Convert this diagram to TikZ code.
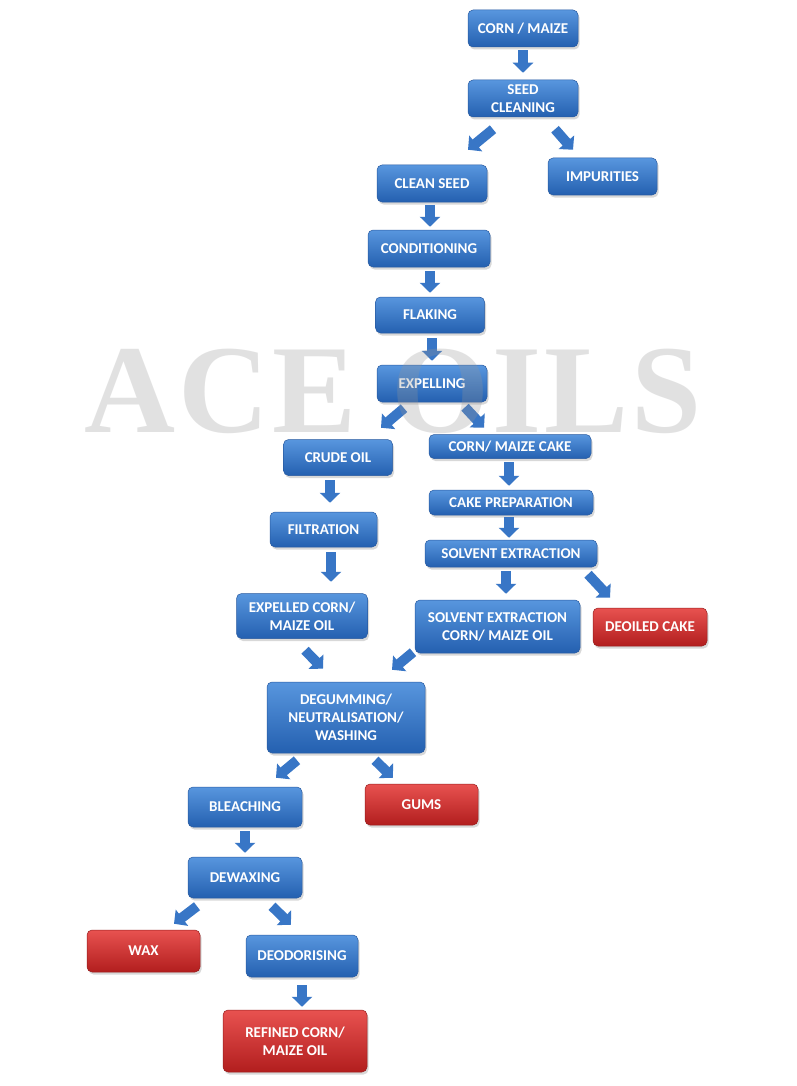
\documentclass[tikz,border=0pt]{standalone}
\usepackage{fontspec}
\newfontfamily\boxfont{Carlito}
\newfontfamily\wmfont[LetterSpace=2.4]{Liberation Serif}
\usetikzlibrary{arrows.meta,shadows}
\definecolor{btop}{RGB}{88,150,222}
\definecolor{bbot}{RGB}{36,96,176}
\definecolor{bline}{RGB}{40,90,160}
\definecolor{rtop}{RGB}{232,82,80}
\definecolor{rbot}{RGB}{178,30,30}
\definecolor{rline}{RGB}{150,30,30}
\definecolor{arr}{RGB}{56,118,198}
\definecolor{wm}{RGB}{150,150,150}
\begin{document}
\begin{tikzpicture}[x=1pt,y=-1pt,
  box/.style={rounded corners=5pt, top color=btop, bottom color=bbot, draw=bline,
    line width=0.5pt, text=white, font=\boxfont\bfseries\fontsize{15}{18}\selectfont,
    align=center, inner sep=0pt,
    drop shadow={shadow xshift=1.5pt, shadow yshift=-2.5pt, opacity=0.3}},
  rbox/.style={box, top color=rtop, bottom color=rbot, draw=rline},
  sz/.style 2 args={minimum width=#1pt, minimum height=#2pt},
  barrow/.style={draw=arr, line width=10pt, -{Triangle[width=20pt,length=10pt]}},
  wmstyle/.style={font=\wmfont\bfseries\fontsize{126}{126}\selectfont, text=wm,
    opacity=0.28, anchor=base, inner sep=0pt}
]
\useasboundingbox (0,0) rectangle (796,1086);
\fill[white] (0,0) rectangle (796,1086);

% nodes
\node[box, sz={110}{37}] (corn) at (523,28.5) {CORN / MAIZE};
\node[box, sz={110}{37}] (seed) at (523,98.5) {SEED\\CLEANING};
\node[box, sz={109}{37}] (imp) at (602.5,176.5) {IMPURITIES};
\node[box, sz={110}{37}] (clean) at (432,183.5) {CLEAN SEED};
\node[box, sz={122}{37}] (cond) at (429,248.5) {CONDITIONING};
\node[box, sz={109}{36}] (flak) at (430,315) {FLAKING};
\node[box, sz={110}{37}] (expel) at (432,383.5) {EXPELLING};
\node[box, sz={109}{36}] (crude) at (338,457.5) {CRUDE OIL};
\node[box, sz={162}{24}] (cake) at (510,446.5) {CORN/ MAIZE CAKE};
\node[box, sz={107}{35}] (filt) at (323.5,529.5) {FILTRATION};
\node[box, sz={164}{25}] (prep) at (511,502.5) {CAKE PREPARATION};
\node[box, sz={172}{27}] (solv) at (511,553.5) {SOLVENT EXTRACTION};
\node[box, sz={131}{45}] (expd) at (302,616) {EXPELLED CORN/\\MAIZE OIL};
\node[box, sz={165}{53}] (solvoil) at (497.5,626.5) {SOLVENT EXTRACTION\\CORN/ MAIZE OIL};
\node[rbox, sz={114}{38}] (deoil) at (650,627) {DEOILED CAKE};
\node[box, sz={158}{71}] (degum) at (346,717.5) {DEGUMMING/\\NEUTRALISATION/\\WASHING};
\node[box, sz={114}{40}] (bleach) at (245,807) {BLEACHING};
\node[rbox, sz={113}{41}] (gums) at (421.5,804.5) {GUMS};
\node[box, sz={114}{41}] (dewax) at (245,877.5) {DEWAXING};
\node[rbox, sz={113}{42}] (wax) at (143.5,951) {WAX};
\node[box, sz={112}{42}] (deod) at (302,956) {DEODORISING};
\node[rbox, sz={144}{62}] (refined) at (295,1041) {REFINED CORN/\\MAIZE OIL};

% arrows
\draw[barrow] ([shift={(0,3)}]corn.south) -- ([shift={(0,-7)}]seed.north);
\draw[barrow] ([shift={(-30,12)}]seed.south) -- ([shift={(36,-15)}]clean.north);
\draw[barrow] ([shift={(32,12)}]seed.south) -- ([shift={(-29.5,-8)}]imp.north);
\draw[barrow] ([shift={(-2,3)}]clean.south) -- ([shift={(1,-3)}]cond.north);
\draw[barrow] ([shift={(1,4)}]cond.south) -- ([shift={(0,-4)}]flak.north);
\draw[barrow] ([shift={(2,5)}]flak.south) -- ([shift={(0,-4)}]expel.north);
\draw[barrow] ([shift={(-28,6)}]expel.south) -- ([shift={(43,-11.5)}]crude.north);
\draw[barrow] ([shift={(33,5)}]expel.south) -- ([shift={(-26,-6.5)}]cake.north);
\draw[barrow] ([shift={(-8,4.5)}]crude.south) -- ([shift={(6.5,-9)}]filt.north);
\draw[barrow] ([shift={(-1,3.5)}]cake.south) -- ([shift={(-2,-4)}]prep.north);
\draw[barrow] ([shift={(-2,2)}]prep.south) -- ([shift={(-2,-2)}]solv.north);
\draw[barrow] ([shift={(7.5,5)}]filt.south) -- ([shift={(29,-11.5)}]expd.north);
\draw[barrow] ([shift={(-5,4)}]solv.south) -- ([shift={(8.5,-6)}]solvoil.north);
\draw[barrow] ([shift={(77,7)}]solv.south) -- ([shift={(-40,-10)}]deoil.north);
\draw[barrow] ([shift={(3,11.5)}]expd.south) -- ([shift={(-23,-13)}]degum.north);
\draw[barrow] ([shift={(-84.5,-1)}]solvoil.south) -- ([shift={(46,-12)}]degum.north);
\draw[barrow] ([shift={(-49,7)}]degum.south) -- ([shift={(31,-9)}]bleach.north);
\draw[barrow] ([shift={(29,7)}]degum.south) -- ([shift={(-28.5,-6)}]gums.north);
\draw[barrow] ([shift={(0,4)}]bleach.south) -- ([shift={(0,-4)}]dewax.north);
\draw[barrow] ([shift={(-48,8)}]dewax.south) -- ([shift={(30.5,-6)}]wax.north);
\draw[barrow] ([shift={(27,8)}]dewax.south) -- ([shift={(-11,-10)}]deod.north);
\draw[barrow] ([shift={(0,8)}]deod.south) -- ([shift={(7,-3)}]refined.north);

% watermark
\node[wmstyle] (wmark) at (393,432) {ACE OILS};
\end{tikzpicture}
\end{document}
